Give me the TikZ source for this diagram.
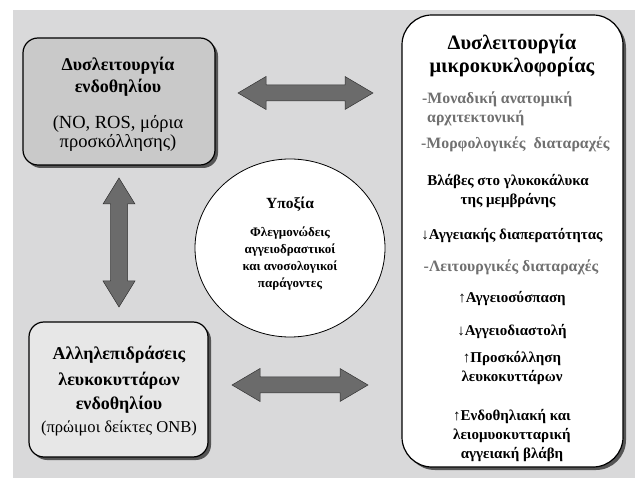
\documentclass[tikz,border=0pt]{standalone}
\usepackage{fontspec}
\setmainfont{Liberation Serif}
\usetikzlibrary{shadows,shapes.geometric}
\definecolor{bgc}{HTML}{D9D9DA}
\definecolor{boxa}{HTML}{C9C9C9}
\definecolor{boxc}{HTML}{E7E7E7}
\definecolor{arrc}{HTML}{6B6B6B}
\definecolor{shadc}{HTML}{555555}
\definecolor{greytxt}{HTML}{707070}
\tikzset{
  panel/.style={draw=black, line width=1.2pt, rounded corners=#1,
    drop shadow={shadow xshift=3pt, shadow yshift=-3pt, fill=shadc, opacity=1}},
  panel/.default=15pt,
  blockarrow/.style={fill=arrc, draw=black!80, line width=0.5pt, line join=miter},
  head/.style={font=\bfseries\fontsize{18}{20}\selectfont, inner sep=0pt},
  bighead/.style={font=\bfseries\fontsize{20.5}{23}\selectfont, inner sep=0pt},
  plain/.style={font=\fontsize{16.6}{19}\selectfont, inner sep=0pt},
  bigplain/.style={font=\fontsize{18.5}{21}\selectfont, inner sep=0pt},
  item/.style={font=\bfseries\fontsize{15}{17}\selectfont, inner sep=0pt},
  gitem/.style={font=\bfseries\fontsize{15.8}{18}\selectfont, text=greytxt, inner sep=0pt},
  ctext/.style={font=\bfseries\fontsize{13}{15}\selectfont, inner sep=0pt},
}
\begin{document}
\begin{tikzpicture}[x=1pt,y=-1pt]
\useasboundingbox (0,0) rectangle (635,478);
\fill[bgc] (13,10) rectangle (635,478);

% boxes
\node[panel, fill=boxa, minimum width=192pt, minimum height=127pt] (endo) at (119,101.5) {};
\node[panel, fill=boxc, minimum width=179pt, minimum height=135pt] (leuko) at (118.5,389.5) {};
\node[panel=30pt, fill=white, minimum width=221pt, minimum height=452pt] (micro) at (512.5,241) {};
\node[ellipse, draw=black, line width=0.8pt, fill=white, minimum width=190pt, minimum height=178pt] (hypo) at (290,248) {};

% block arrows
\draw[blockarrow] (238,93) -- (266,76.5) -- (266,85) -- (345,85) -- (345,76.5) -- (373,93)
  -- (345,109.5) -- (345,101) -- (266,101) -- (266,109.5) -- cycle;
\draw[blockarrow] (232,385) -- (260,368.5) -- (260,377) -- (340,377) -- (340,368.5) -- (368,385)
  -- (340,401.5) -- (340,393) -- (260,393) -- (260,401.5) -- cycle;
\draw[blockarrow] (119,178) -- (135,204) -- (127.5,204) -- (127.5,281) -- (135,281) -- (119,307)
  -- (103,281) -- (110.5,281) -- (110.5,204) -- (103,204) -- cycle;

% box 1 text
\node[head] (e1) at (118,66) {Δυσλειτουργία};
\node[head] (e2) at (118,88) {ενδοθηλίου};
\node[bigplain] (e3) at (118,124) {(NO, ROS, μόρια};
\node[bigplain] (e4) at (118,143) {προσκόλλησης)};

% box 3 text
\node[head] (l1) at (119,355) {Αλληλεπιδράσεις};
\node[head] (l2) at (119,381) {λευκοκυττάρων};
\node[head] (l3) at (119,405) {ενδοθηλίου};
\node[plain] (l4) at (119,428) {(πρώιμοι δείκτες ONB)};

% circle text
\node[font=\bfseries\fontsize{15.5}{18}\selectfont, inner sep=0pt] (h1) at (290,204) {Υποξία};
\node[ctext] (h2) at (290,233) {Φλεγμονώδεις};
\node[ctext] (h3) at (290,250) {αγγειοδραστικοί};
\node[ctext] (h4) at (290,267) {και ανοσολογικοί};
\node[ctext] (h5) at (290,284) {παράγοντες};

% right box text
\node[bighead] (m1) at (512,44) {Δυσλειτουργία};
\node[bighead] (m2) at (512,67) {μικροκυκλοφορίας};
\node[gitem, anchor=west] (m3) at (422,99) {-Μοναδική ανατομική};
\node[gitem, anchor=west] (m4) at (427,118) {αρχιτεκτονική};
\node[gitem, anchor=west] (m5) at (421,144) {-Μορφολογικές\hspace{0.5em}διαταραχές};
\node[item] (m6) at (508,182) {Βλάβες στο γλυκοκάλυκα};
\node[item] (m7) at (508,201) {της μεμβράνης};
\node[item] (m8) at (512,236) {{\mdseries↓}Αγγειακής διαπερατότητας};
\node[gitem] (m9) at (511,267) {-Λειτουργικές διαταραχές};
\node[item] (m10) at (512,299) {{\mdseries↑}Αγγειοσύσπαση};
\node[item] (m11) at (512,332) {{\mdseries↓}Αγγειοδιαστολή};
\node[item] (m12) at (512,359) {{\mdseries↑}Προσκόλληση};
\node[item] (m13) at (512,378) {λευκοκυττάρων};
\node[item] (m14) at (512,417) {{\mdseries↑}Ενδοθηλιακή και};
\node[item] (m15) at (512,436) {λειομυοκυτταρική};
\node[item] (m16) at (512,455) {αγγειακή βλάβη};
\end{tikzpicture}
\end{document}
